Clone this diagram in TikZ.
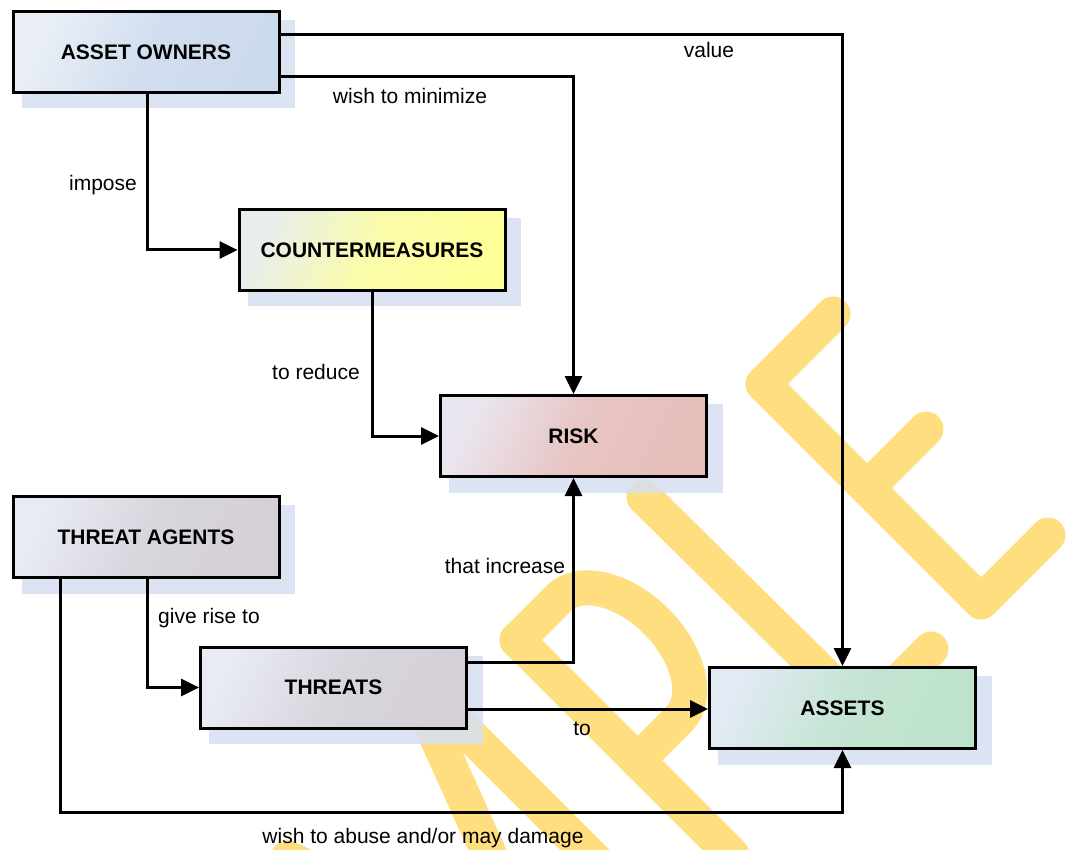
\documentclass[tikz,border=0pt]{standalone}
\usepackage{fontspec}
\setmainfont{Liberation Sans}
\usetikzlibrary{arrows.meta}
\pgfdeclarelayer{wmlayer}
\pgfdeclarelayer{shadowlayer}
\pgfsetlayers{wmlayer,shadowlayer,main}

\definecolor{wmark}{RGB}{255,222,128}
\definecolor{shadowblue}{RGB}{214,224,241}
\definecolor{aoA}{RGB}{234,239,247}
\definecolor{aoB}{RGB}{204,218,237}
\definecolor{cmA}{RGB}{232,238,236}
\definecolor{cmB}{RGB}{255,255,153}
\definecolor{riskA}{RGB}{234,230,240}
\definecolor{riskB}{RGB}{230,190,186}
\definecolor{thA}{RGB}{232,235,244}
\definecolor{thB}{RGB}{213,208,216}
\definecolor{asA}{RGB}{226,234,244}
\definecolor{asB}{RGB}{190,227,204}

\begin{document}
\begin{tikzpicture}[x=1pt,y=-1pt,
  box/.style={draw=black, line width=3pt, minimum width=266pt, minimum height=81pt,
    inner sep=0pt, font=\fontsize{21}{25}\selectfont\bfseries},
  grad/.style 2 args={top color=#1, bottom color=#2, middle color=#2!80!#1, shading angle=65},
  link/.style={draw=black, line width=3pt, -{Triangle[length=18pt,width=17pt]}},
  lbl/.style={font=\fontsize{21}{25}\selectfont, anchor=base, inner sep=0pt},
  wm/.style={draw=wmark, line width=35pt, line cap=round, line join=round},
  shadowfill/.style={fill=shadowblue, opacity=0.85}]

\useasboundingbox (0,0) rectangle (1068,850);

% watermark lettering behind the diagram
\begin{pgfonlayer}{wmlayer}
  \fill[white] (0,0) rectangle (1068,850);
  \begin{scope}
    \clip (0,0) rectangle (1068,850);
    % M
    \draw[wm] (288,858) -- (548,985) -- (420,700);
    \draw[wm] (441,706) -- (660,925);
    \draw[wm] (288,858) -- (500,1070);
    % P
    \draw[wm] (517,640) -- (732,855);
    \draw[wm] (517,640) -- (558.5,598.5) .. controls (579,578) and (623,588) .. (656,621)
      .. controls (689,654) and (700,698) .. (679,719) -- (637.5,760.5);
    % L
    \draw[wm] (644,497) -- (865,715) -- (931,649);
    % E
    \draw[wm] (833,314) -- (763,384) -- (981,602) -- (1048,535);
    \draw[wm] (867,488) -- (926,429);
  \end{scope}
\end{pgfonlayer}

% boxes
\node[box, grad={aoA}{aoB}] (AO) at (146,52) {ASSET OWNERS};
\node[box, grad={cmA}{cmB}] (CM) at (372,250) {COUNTERMEASURES};
\node[box, grad={riskA}{riskB}] (RISK) at (573.5,436) {RISK};
\node[box, grad={thA}{thB}] (TA) at (146,537) {THREAT AGENTS};
\node[box, grad={thA}{thB}] (TH) at (333.5,687.5) {THREATS};
\node[box, grad={asA}{asB}] (AS) at (842.5,708) {ASSETS};

% box shadows
\begin{pgfonlayer}{shadowlayer}
  \foreach \n in {AO,CM,RISK,TA,TH,AS}
    \fill[shadowfill] ([shift={(10pt,-10pt)}]\n.north west) rectangle ([shift={(14.5pt,-14.5pt)}]\n.south east);
\end{pgfonlayer}

% connectors
\draw[link] ([yshift=17pt]AO.east) -| (AS.north);
\draw[link] ([yshift=-25pt]AO.east) -| (RISK.north);
\draw[link] ([xshift=1pt]AO.south) |- (CM.west);
\draw[link] (CM.south) |- (RISK.west);
\draw[link] ([xshift=1pt]TA.south) |- (TH.west);
\draw[link] ([xshift=-86pt]TA.south) |- ([yshift=-62.5pt]AS.south) -- (AS.south);
\draw[link] ([yshift=25.5pt]TH.east) -| (RISK.south);
\draw[link] ([yshift=-21.5pt]TH.east) -- ([yshift=-21.5pt]TH.east -| AS.west);

% connector labels
\node[lbl] (lvalue) at (709,58) {value};
\node[lbl] (lmin) at (410,104) {wish to minimize};
\node[lbl] (limpose) at (103,191) {impose};
\node[lbl] (lreduce) at (316,379) {to reduce};
\node[lbl] (lincrease) at (505,573) {that increase};
\node[lbl] (lrise) at (209,623) {give rise to};
\node[lbl] (lto) at (582,735) {to};
\node[lbl] (labuse) at (423,843) {wish to abuse and/or may damage};
\end{tikzpicture}
\end{document}
